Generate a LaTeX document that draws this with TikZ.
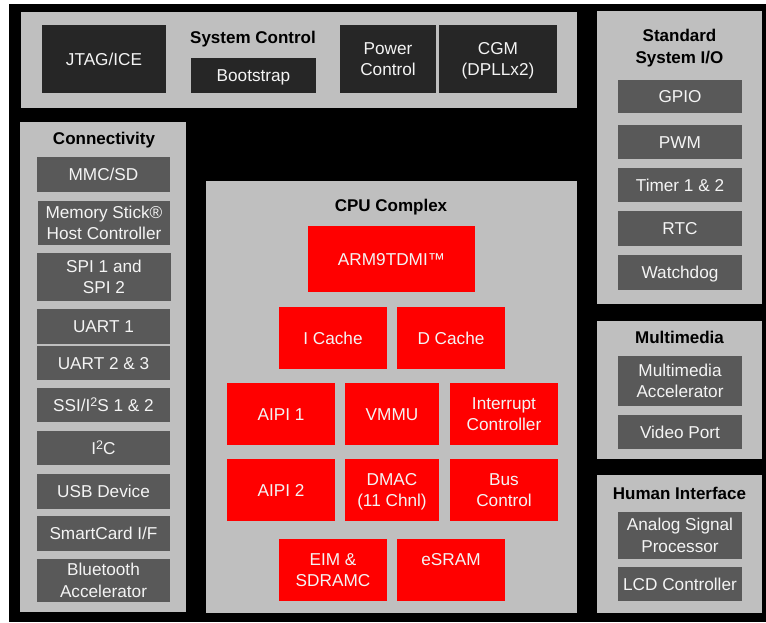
\documentclass[tikz,border=0pt]{standalone}
\usepackage{fontspec}
\setmainfont{Liberation Sans}
\definecolor{panelgray}{HTML}{BFBFBF}
\definecolor{darkfill}{HTML}{262626}
\definecolor{grayfill}{HTML}{595959}
\definecolor{redfill}{HTML}{FF0000}
\definecolor{boxtext}{HTML}{F4F4F4}
\newcommand\ls{\rule[-4.65pt]{0pt}{21.5pt}}
\newcommand\suptwo{\raisebox{4.3pt}{\fontsize{12.5}{12.5}\selectfont 2}}
\newcommand\blockbox[7]{%
  \pgfmathsetmacro\bxw{#5-#3}\pgfmathsetmacro\bxh{#6-#4}%
  \pgfmathsetmacro\bxcx{(#3+#5)/2}\pgfmathsetmacro\bxcy{(#4+#6)/2}%
  \node[#1, minimum width=\bxw pt, minimum height=\bxh pt] (#2) at (\bxcx,\bxcy) {#7};}
\tikzset{
  basebox/.style={inner sep=0pt, outer sep=0pt, align=center, text=boxtext,
    font=\fontsize{17.2}{21.5}\selectfont},
  panel/.style={basebox, fill=panelgray},
  darkbox/.style={basebox, fill=darkfill},
  graybox/.style={basebox, fill=grayfill},
  redbox/.style={basebox, fill=redfill},
  paneltitle/.style={inner sep=0pt, anchor=base, align=center, text=black,
    font=\fontsize{17}{22}\selectfont\bfseries}
}
\begin{document}
\begin{tikzpicture}[x=1pt,y=-1pt]
\useasboundingbox (0,0) rectangle (766,622);
\fill[white] (0,0) rectangle (766,622);
\fill[black] (9,4) rectangle (766,622);
% panels
\blockbox{panel}{syspanel}{21}{12}{577}{108}{}
\blockbox{panel}{stdpanel}{597}{11}{762}{304}{}
\blockbox{panel}{conpanel}{20}{122}{186}{612}{}
\blockbox{panel}{cpupanel}{206}{181}{577}{613}{}
\blockbox{panel}{mmpanel}{597}{321}{762}{459}{}
\blockbox{panel}{hipanel}{597}{475}{762}{613}{}
% titles
\node[paneltitle] (systitle) at (253,43) {System Control};
\node[paneltitle] (stdtitle1) at (679.5,41) {Standard};
\node[paneltitle] (stdtitle2) at (679.5,63) {System I/O};
\node[paneltitle] (contitle) at (104,144) {Connectivity};
\node[paneltitle] (cputitle) at (391,211) {CPU Complex};
\node[paneltitle] (mmtitle) at (679.5,343) {Multimedia};
\node[paneltitle] (hititle) at (679.5,499) {Human Interface};
% system control
\blockbox{darkbox}{jtag}{42}{25}{166}{93}{\ls JTAG/ICE}
\blockbox{darkbox}{boot}{191}{58}{316}{93}{\ls Bootstrap}
\blockbox{darkbox}{power}{340}{25}{436}{93}{\ls Power\\\ls Control}
\blockbox{darkbox}{cgm}{439}{25}{557}{93}{\ls CGM\\\ls (DPLLx2)}
% standard system I/O
\blockbox{graybox}{gpio}{618}{80}{742}{113}{\ls GPIO}
\blockbox{graybox}{pwm}{618}{125}{742}{159}{\ls PWM}
\blockbox{graybox}{timer}{618}{168}{742}{202}{\ls Timer 1 \& 2}
\blockbox{graybox}{rtc}{618}{211}{742}{246}{\ls RTC}
\blockbox{graybox}{wdog}{618}{255}{742}{290}{\ls Watchdog}
% connectivity
\blockbox{graybox}{mmc}{37}{157}{170}{192}{\ls MMC/SD}
\blockbox{graybox}{mstick}{38}{201}{170}{245}{\ls Memory Stick®\\\ls Host Controller}
\blockbox{graybox}{spi}{37}{253}{171}{301}{\ls SPI 1 and\\\ls SPI 2}
\blockbox{graybox}{uarta}{37}{309}{170}{344}{\ls UART 1}
\blockbox{graybox}{uartb}{37}{346}{170}{380}{\ls UART 2 \& 3}
\blockbox{graybox}{ssi}{37}{388}{170}{422}{\ls SSI/I\suptwo S 1 \& 2}
\blockbox{graybox}{iic}{37}{431}{170}{465}{\ls I\suptwo C}
\blockbox{graybox}{usb}{37}{474}{170}{509}{\ls USB Device}
\blockbox{graybox}{smart}{37}{516}{170}{551}{\ls SmartCard I/F}
\blockbox{graybox}{bt}{37}{559}{170}{602}{\ls Bluetooth\\\ls Accelerator}
% CPU complex
\blockbox{redbox}{arm}{308}{226}{475}{292}{\ls ARM9TDMI™}
\blockbox{redbox}{icache}{279}{307}{387}{369}{\ls I Cache}
\blockbox{redbox}{dcache}{397}{307}{505}{369}{\ls D Cache}
\blockbox{redbox}{aipia}{227}{383}{335}{445}{\ls AIPI 1}
\blockbox{redbox}{vmmu}{345}{383}{439}{445}{\ls VMMU}
\blockbox{redbox}{intc}{450}{383}{558}{445}{\ls Interrupt\\\ls Controller}
\blockbox{redbox}{aipib}{227}{459}{335}{521}{\ls AIPI 2}
\blockbox{redbox}{dmac}{345}{459}{439}{521}{\ls DMAC\\\ls (11 Chnl)}
\blockbox{redbox}{busc}{450}{459}{558}{521}{\ls Bus\\\ls Control}
\blockbox{redbox}{eim}{279}{539}{387}{601}{\ls EIM \&\\\ls SDRAMC}
\blockbox{redbox}{esram}{397}{539}{505}{601}{\ls eSRAM\\\ls}
% multimedia
\blockbox{graybox}{mma}{618}{356}{742}{406}{\ls Multimedia\\\ls Accelerator}
\blockbox{graybox}{vport}{618}{415}{742}{449}{\ls Video Port}
% human interface
\blockbox{graybox}{asp}{618}{512}{742}{559}{\ls Analog Signal\\\ls Processor}
\blockbox{graybox}{lcd}{618}{567}{742}{601}{\ls LCD Controller}
\end{tikzpicture}
\end{document}
